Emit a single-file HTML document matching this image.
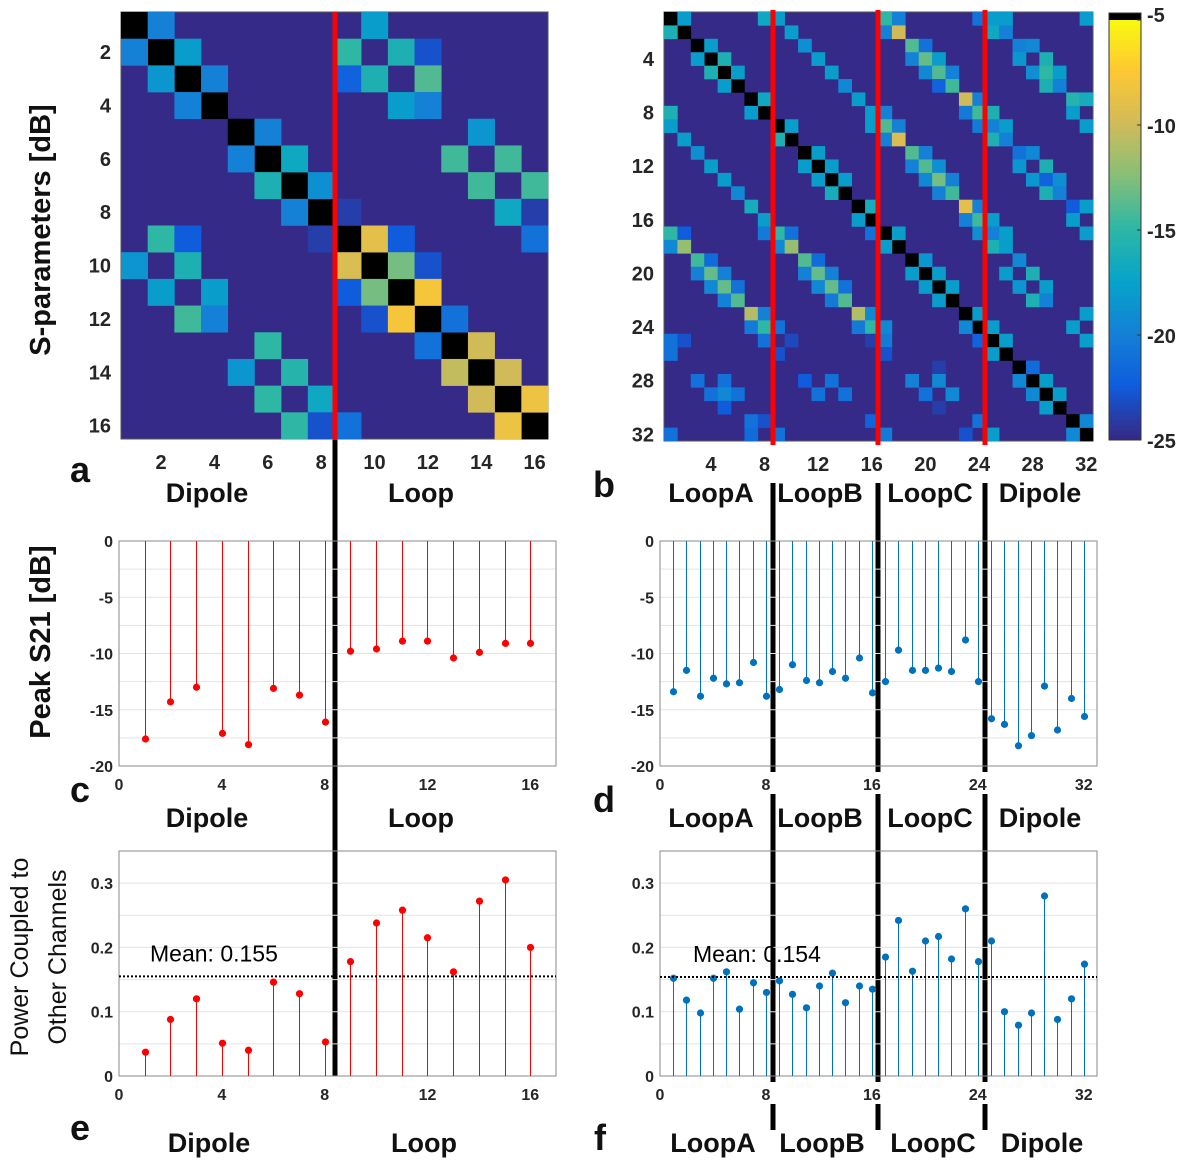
<!DOCTYPE html>
<html><head><meta charset="utf-8"><style>
html,body{margin:0;padding:0;background:#fff;}
svg{display:block;font-family:"Liberation Sans",Arial,sans-serif;}
.tk{font-size:20px;font-weight:bold;fill:#262626;}
.tk2{font-size:16px;font-weight:bold;fill:#262626;}
.grp{font-size:27px;font-weight:bold;fill:#111;}
.pl{font-size:36px;font-weight:bold;fill:#111;}
</style></head><body>
<svg id="fig" width="1185" height="1170" viewBox="0 0 1185 1170"></svg>
<script>
// ---------- DATA ----------
const heatA = [
[1,2,-20],[1,10,-18],
[2,1,-20],[2,3,-18],[2,9,-15],[2,11,-16],[2,12,-23],
[3,2,-18.5],[3,4,-20],[3,9,-22],[3,10,-16],[3,12,-14],
[4,3,-20],[4,11,-18],[4,12,-20],
[5,6,-20],[5,14,-18.5],
[6,5,-20],[6,7,-17],[6,13,-14.5],[6,15,-14.5],
[7,6,-16],[7,8,-19],[7,14,-14.5],[7,16,-14.5],
[8,7,-20],[8,9,-24],[8,15,-17],[8,16,-24],
[9,2,-15],[9,3,-22.5],[9,8,-24],[9,10,-9],[9,11,-22.5],[9,16,-21],
[10,1,-18.5],[10,3,-16],[10,9,-9.5],[10,11,-13],[10,12,-23],
[11,2,-18],[11,4,-18],[11,9,-22.5],[11,10,-13],[11,12,-8],
[12,3,-14.5],[12,4,-20],[12,10,-23],[12,11,-8],[12,13,-21],
[13,6,-15],[13,12,-21],[13,14,-10],
[14,5,-18.5],[14,7,-15.5],[14,13,-10.5],[14,15,-10],
[15,6,-15],[15,8,-17],[15,14,-10],[15,16,-8.5],
[16,7,-15],[16,8,-23],[16,9,-21],[16,15,-8.5]
];
const heatB = [
[1,2,-18],[1,8,-17],[1,9,-18],[1,17,-15],[1,18,-20],[1,24,-21],[1,25,-18],[1,26,-18],[1,32,-18],
[2,1,-16],[2,10,-18],[2,17,-20],[2,18,-10],[2,25,-17],[2,26,-20],
[3,4,-18],[3,11,-19],[3,19,-14],[3,20,-21],[3,27,-20],[3,28,-19.5],
[4,3,-18],[4,5,-16],[4,12,-18],[4,19,-20],[4,20,-13.5],[4,21,-18],[4,27,-18.5],[4,29,-16],
[5,4,-16],[5,6,-18],[5,13,-18],[5,20,-19.5],[5,21,-14],[5,22,-20],[5,28,-19],[5,29,-15],[5,30,-18],
[6,5,-18],[6,14,-19.5],[6,21,-22],[6,22,-14.5],[6,29,-16],[6,30,-20],
[7,8,-17],[7,15,-18],[7,23,-10],[7,24,-20],[7,31,-15.5],[7,32,-16.5],
[8,1,-16],[8,7,-18],[8,16,-18],[8,17,-20],[8,23,-20.5],[8,24,-14.5],[8,25,-16],[8,31,-18],
[9,1,-18],[9,10,-18],[9,16,-18],[9,17,-14],[9,18,-20],[9,24,-20.5],[9,25,-20],[9,26,-18],[9,32,-18],
[10,2,-18],[10,9,-16],[10,17,-20],[10,18,-9.5],[10,25,-16],[10,26,-20],
[11,3,-19],[11,12,-18],[11,19,-14],[11,20,-20],[11,27,-21],[11,28,-19.5],
[12,4,-18],[12,11,-18],[12,13,-18],[12,19,-20],[12,20,-14],[12,21,-19],[12,27,-18.5],[12,29,-16],
[13,5,-18],[13,12,-18],[13,14,-18],[13,20,-19.5],[13,21,-13],[13,22,-20],[13,28,-18.5],[13,29,-22],[13,30,-19],
[14,6,-19.5],[14,13,-16.5],[14,21,-20],[14,22,-14.5],[14,29,-16],[14,30,-20],
[15,7,-16.5],[15,16,-16.5],[15,23,-9],[15,24,-20],[15,31,-22.5],[15,32,-18],
[16,8,-18],[16,15,-18],[16,23,-20],[16,24,-14.5],[16,25,-18],[16,31,-18],
[17,1,-15],[17,2,-22.5],[17,8,-20.5],[17,9,-15],[17,10,-21],[17,16,-21],[17,18,-18],[17,24,-19],[17,25,-20],[17,26,-18],[17,32,-18],
[18,1,-19.5],[18,2,-12],[18,9,-19.5],[18,10,-12],[18,17,-18],[18,25,-16],[18,26,-18],
[19,3,-14.5],[19,4,-21.5],[19,11,-14],[19,12,-21.5],[19,20,-18.5],[19,27,-19.5],
[20,3,-20],[20,4,-13.5],[20,5,-20],[20,11,-20],[20,12,-13.5],[20,13,-20],[20,19,-18],[20,21,-18],[20,26,-18],[20,28,-16],
[21,4,-19.5],[21,5,-13.5],[21,6,-21],[21,12,-19.5],[21,13,-13.5],[21,14,-21],[21,20,-18],[21,22,-18],[21,27,-18.5],[21,29,-18],
[22,5,-20],[22,6,-14],[22,13,-20.5],[22,14,-14],[22,21,-18],[22,28,-16],[22,29,-20],
[23,7,-11],[23,8,-20],[23,15,-11],[23,16,-19.5],[23,24,-18],[23,32,-18],
[24,7,-20.5],[24,8,-15],[24,9,-21],[24,15,-20.5],[24,16,-15],[24,17,-19.5],[24,23,-19.5],[24,25,-18],[24,31,-18],
[25,1,-21],[25,2,-23],[25,8,-21],[25,10,-23.5],[25,16,-24],[25,17,-20.5],[25,24,-22],[25,26,-18],[25,32,-18],
[26,1,-21],[26,9,-23],[26,17,-23],[26,25,-18],
[27,21,-24],[27,28,-21.5],
[28,3,-21],[28,5,-21],[28,11,-22.5],[28,13,-21],[28,19,-20],[28,21,-19.5],[28,27,-19.5],[28,29,-18],
[29,4,-21],[29,5,-19.5],[29,6,-21],[29,12,-21],[29,14,-21],[29,20,-21],[29,22,-19.5],[29,28,-19.5],[29,30,-18],
[30,5,-22.5],[30,21,-24],[30,29,-18],
[31,7,-21],[31,8,-23],[31,16,-22],[31,24,-21],[31,32,-19.5],
[32,1,-21],[32,7,-21.5],[32,9,-21],[32,17,-20.5],[32,23,-23],[32,25,-18],[32,31,-19.5]
];
const peakDipoleLoop = [-17.6,-14.3,-13,-17.1,-18.1,-13.1,-13.7,-16.1,-9.8,-9.6,-8.9,-8.9,-10.4,-9.9,-9.1,-9.1];
const peakFourGroup = [-13.4,-11.5,-13.8,-12.2,-12.7,-12.6,-10.8,-13.8,-13.2,-11,-12.4,-12.6,-11.6,-12.2,-10.4,-13.5,-12.5,-9.7,-11.5,-11.5,-11.3,-11.6,-8.8,-12.5,-15.8,-16.3,-18.2,-17.3,-12.9,-16.8,-14,-15.6];
const powerDipoleLoop = [0.037,0.088,0.12,0.051,0.04,0.146,0.128,0.053,0.178,0.238,0.258,0.215,0.162,0.272,0.305,0.2];
const powerFourGroup = [0.152,0.118,0.098,0.152,0.162,0.104,0.145,0.13,0.148,0.127,0.106,0.14,0.16,0.114,0.14,0.135,0.185,0.242,0.163,0.21,0.217,0.182,0.26,0.178,0.21,0.1,0.079,0.098,0.28,0.088,0.12,0.174];
const meanE = 0.155, meanF = 0.154;
const dbTicks = [0,-5,-10,-15,-20];
const powTicks = [0,0.1,0.2,0.3];
const cbTicks = [-5,-10,-15,-20,-25];

// ---------- helpers ----------
const NS='http://www.w3.org/2000/svg';
const svg=document.getElementById('fig');
function mk(tag,attrs,parent){const e=document.createElementNS(NS,tag);for(const k in attrs)e.setAttribute(k,attrs[k]);(parent||svg).appendChild(e);return e;}
function txt(s,x,y,cls,anchor,parent){const t=mk('text',{x:x,y:y,'class':cls,'text-anchor':anchor||'middle'},parent);t.textContent=s;return t;}
const stops=[[0,[53,42,135]],[0.125,[15,92,221]],[0.25,[20,129,214]],[0.375,[6,164,202]],[0.5,[46,183,164]],[0.625,[135,191,119]],[0.75,[209,187,89]],[0.875,[254,200,50]],[1,[249,251,14]]];
function parula(v){
  if(v>-5.01)return '#000';
  let t=(v+25)/20; t=Math.max(0,Math.min(1,t));
  for(let i=1;i<stops.length;i++){if(t<=stops[i][0]){const a=stops[i-1],b=stops[i];const f=(t-a[0])/(b[0]-a[0]);
    const c=a[1].map((x,j)=>Math.round(x+(b[1][j]-x)*f));return `rgb(${c[0]},${c[1]},${c[2]})`;}}
  return '#f9fb0e';
}

// ---------- heatmaps ----------
function heatmap(name,entries,n,x0,y0,size,yTicks,xTicks){
  const g=mk('g',{});
  
  
  const cs=size/n;
  const bg=mk('rect',{x:x0,y:y0,width:size,height:size,fill:parula(-25),stroke:'#555','stroke-width':1},g);
  
  
  for(let i=1;i<=n;i++){const r=mk('rect',{x:x0+(i-1)*cs,y:y0+(i-1)*cs,width:cs+0.3,height:cs+0.3,fill:'#000'},g);
    
    }
  entries.forEach(([r,c,v])=>{const e=mk('rect',{x:x0+(c-1)*cs,y:y0+(r-1)*cs,width:cs+0.3,height:cs+0.3,fill:parula(v)},g);
    
    });
  yTicks.forEach(k=>{const t=txt(String(k),x0-10,y0+(k-0.5)*cs+7,'tk','end',g);
    
    });
  xTicks.forEach(k=>{const t=txt(String(k),x0+(k-0.5)*cs,y0+size+30,'tk','middle',g);
    
    });
}
heatmap('heatmap-a',heatA,16,121,12,427,[2,4,6,8,10,12,14,16],[2,4,6,8,10,12,14,16]);
heatmap('heatmap-b',heatB,32,664,12,429,[4,8,12,16,20,24,28,32],[4,8,12,16,20,24,28,32]);

// colorbar
(function(){
  const g=mk('g',{});
  
  
  const x=1109,y1=20,y2=440,w=32;
  for(let i=0;i<84;i++){const v=-25+20*i/84;const h=(y2-y1)/84;
    const r=mk('rect',{x:x,y:y2-(i+1)*h,width:w,height:h+0.5,fill:parula(v)},g);
    
    }
  mk('rect',{x:x,y:13,width:w,height:7,fill:'#000'},g);
  mk('rect',{x:x,y:13,width:w,height:y2-13,fill:'none',stroke:'#333','stroke-width':1},g);
  cbTicks.forEach(v=>{const yy=y2-(v+25)/20*(y2-y1);const t=txt(String(v),1147,(v===-5?22:yy+8),'tk','start',g);
    
    
    mk('line',{x1:x+w-4,x2:x+w,y1:yy,y2:yy,stroke:'#333'},g);});
})();

// ---------- divider lines ----------
function vline(name,x,y1,y2,col){const l=mk('line',{x1:x,x2:x,y1:y1,y2:y2,stroke:col,'stroke-width':5});
  
  }

[[119,541],[660,541],[119,851],[660,851]].forEach(([x,y])=>{const r=mk('rect',{x:x,y:y,width:437,height:225,fill:'#fff'});
  
  });

vline('red-divider-a',335,12,440,'#ff0000');
vline('black-divider-left',335,440,1076,'#000');
[773,878,985].forEach(x=>{
  vline('red-divider-b',x,10,445,'#ff0000');
  vline('black-divider-right',x,483,772,'#000');
  vline('black-divider-right',x,794,1082,'#000');
  vline('black-divider-right',x,1104,1130,'#000');
});

// ---------- stem plots ----------
function stem(name,vals,colour,x0,x1,y0,y1,xmax,ymin,ymax,yTicks,xTicks,grid,mean,meanLabel,meanLabelX){
  const g=mk('g',{});
  
  
  const X=v=>x0+(v/xmax)*(x1-x0);
  const Y=v=>y1-(v-ymin)/(ymax-ymin)*(y1-y0);
  grid.forEach(v=>{mk('line',{x1:x0,x2:x1,y1:Y(v),y2:Y(v),stroke:'#e3e3e3','stroke-width':1},g);});
  mk('rect',{x:x0,y:y0,width:x1-x0,height:y1-y0,fill:'none',stroke:'#8a8a8a','stroke-width':1},g);
  yTicks.forEach(v=>{const t=txt(String(v),x0-6,Y(v)+6,'tk2','end',g);
    
    });
  xTicks.forEach(v=>{const t=txt(String(v),X(v),y1+24,'tk2','middle',g);
    
    });
  vals.forEach((v,i)=>{const xx=Math.round(X(i+1))+0.5;
    const l=mk('line',{x1:xx,x2:xx,y1:Y(0),y2:Y(v),stroke:colour,'stroke-width':1,'shape-rendering':'crispEdges'},g);
    
    
    const c=mk('circle',{cx:xx,cy:Y(v),r:3.6,fill:colour},g);
    
    });
  if(mean!==null){
    const m=mk('line',{x1:x0,x2:x1,y1:Y(mean),y2:Y(mean),stroke:'#000','stroke-width':2,'stroke-dasharray':'2,2'},g);
    
    
    const t=txt(meanLabel,meanLabelX,Y(mean)-15,'','start',g);
    t.setAttribute('style','font-size:23px;fill:#000');
    
    
  }
}
const g25=[-2.5,-5,-7.5,-10,-12.5,-15,-17.5];
const g05=[0.05,0.1,0.15,0.2,0.25,0.3];
stem('peak-s21-dipole-loop',peakDipoleLoop,'#ff0000',119,556,541,766,17,-20,0,dbTicks,[0,4,8,12,16],g25,null);
stem('peak-s21-four-groups',peakFourGroup,'#0072bd',660,1097,541,766,33,-20,0,dbTicks,[0,8,16,24,32],g25,null);
stem('power-coupled-dipole-loop',powerDipoleLoop,'#ff0000',119,556,851,1076,17,0,0.35,powTicks,[0,4,8,12,16],g05,meanE,'Mean: 0.155',150);
stem('power-coupled-four-groups',powerFourGroup,'#0072bd',660,1097,851,1076,33,0,0.35,powTicks,[0,8,16,24,32],g05,meanF,'Mean: 0.154',693);

// ---------- labels ----------
[['Dipole',207,502],['Loop',421,502],['LoopA',711,502],['LoopB',820,502],['LoopC',930,502],['Dipole',1040,502],
 ['Dipole',207,827],['Loop',421,827],['LoopA',711,827],['LoopB',820,827],['LoopC',930,827],['Dipole',1040,827],
 ['Dipole',209,1152],['Loop',424,1152],['LoopA',713,1152],['LoopB',822,1152],['LoopC',933,1152],['Dipole',1042,1152]
].forEach(([s,x,y])=>{const t=txt(s,x,y,'grp');
  
  });
[['a',80,482],['b',604,497],['c',80,802],['d',604,812],['e',80,1140],['f',600,1150]].forEach(([s,x,y])=>{const t=txt(s,x,y,'pl');
  
  });
function rot(s,x,y,style,name){const t=mk('text',{x:0,y:0,transform:`translate(${x},${y}) rotate(-90)`,'text-anchor':'middle',style:style});
  t.textContent=s;
  
  }
rot('S-parameters [dB]',50,230,'font-size:29px;font-weight:bold;fill:#111','s-parameters-axis-title');
rot('Peak S21 [dB]',50,642,'font-size:29px;font-weight:bold;fill:#111','peak-s21-axis-title');
rot('Power Coupled to',28,957,'font-size:25px;fill:#111','power-coupled-axis-title-line1');
rot('Other Channels',66,957,'font-size:25px;fill:#111','power-coupled-axis-title-line2');
</script>
</body></html>
